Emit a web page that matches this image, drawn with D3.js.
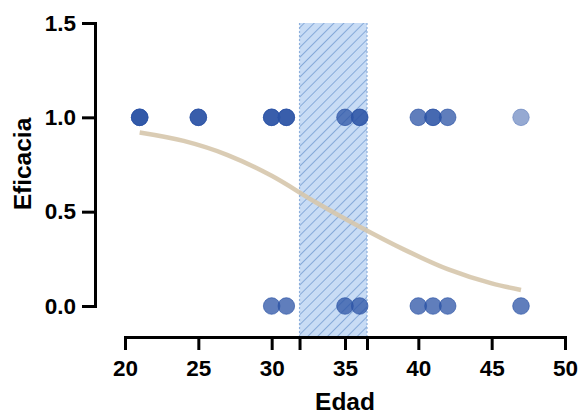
<!DOCTYPE html>
<html>
<head>
<meta charset="utf-8">
<script src="https://cdn.jsdelivr.net/npm/d3@7"></script>
<style>
  body { margin: 0; background: #fff; }
  svg { display: block; font-family: "Liberation Sans", Arial, sans-serif; }
  .axis text { font-size: 22.5px; font-weight: bold; fill: #000; }
  .axis path, .axis line { stroke: #000; stroke-width: 3; }
  .title { font-size: 24.5px; font-weight: bold; }
</style>
</head>
<body>
<svg id="chart"></svg>
<script>
'use strict';

// observations (age, outcome); repeated rows = overlapping points
const ages     = [21,21,21,21,21, 25,25,25,25, 30,30,30,30, 31,31,31,31, 35,35, 36,36,36, 40,40, 41,41,41, 42,42, 47,
                  30,30, 31,31, 35,35, 36,36, 40,40, 41,41, 42,42, 47,47];
const outcomes = [1,1,1,1,1, 1,1,1,1, 1,1,1,1, 1,1,1,1, 1,1, 1,1,1, 1,1, 1,1,1, 1,1, 1,
                  0,0, 0,0, 0,0, 0,0, 0,0, 0,0, 0,0, 0,0];

// fitted curve
const curveX = [21, 24, 27, 30, 33, 36, 39, 42, 45, 47];
const curveY = [0.92, 0.875, 0.80, 0.69, 0.55, 0.42, 0.30, 0.195, 0.12, 0.085];

// shaded interval
const band = [31.9, 36.5];

const xTicks = [20, 25, 30, 35, 40, 45, 50];
const yTicks = [0, 0.5, 1.0, 1.5];

const W = 580, H = 414;
const svg = d3.select('#chart').attr('width', W).attr('height', H);

const x = d3.scaleLinear().domain([20, 50]).range([125, 565]);
const y = d3.scaleLinear().domain([0, 1.5]).range([306, 23]);
const xAxisY = 337;

// hatch pattern
const defs = svg.append('defs');
const pat = defs.append('pattern')
    .attr('id', 'hatch')
    .attr('patternUnits', 'userSpaceOnUse')
    .attr('width', 7).attr('height', 7)
    .attr('patternTransform', 'rotate(45)');
pat.append('rect').attr('width', 7).attr('height', 7).attr('fill', '#c8dcf5');
pat.append('line')
    .attr('x1', 0).attr('y1', 0).attr('x2', 0).attr('y2', 7)
    .attr('stroke', '#87aad9').attr('stroke-width', 2);

svg.append('rect')
    .attr('x', x(band[0]))
    .attr('y', y(1.5))
    .attr('width', x(band[1]) - x(band[0]))
    .attr('height', xAxisY - y(1.5))
    .attr('fill', 'url(#hatch)');

svg.selectAll('.bandedge')
    .data(band)
  .enter().append('line')
    .attr('x1', d => x(d)).attr('x2', d => x(d))
    .attr('y1', y(1.5)).attr('y2', xAxisY)
    .attr('stroke', '#8eb0dd').attr('stroke-width', 1.2)
    .attr('stroke-dasharray', '2,2');

// fitted curve
const line = d3.line()
    .x(d => x(d[0]))
    .y(d => y(d[1]))
    .curve(d3.curveMonotoneX);

svg.append('path')
    .datum(curveX.map((v, i) => [v, curveY[i]]))
    .attr('d', line)
    .attr('fill', 'none')
    .attr('stroke', '#d6c7ac')
    .attr('stroke-opacity', 0.9)
    .attr('stroke-width', 4.5);

// points
svg.append('g')
    .selectAll('circle')
    .data(ages.map((a, i) => [a, outcomes[i]]))
  .enter().append('circle')
    .attr('cx', d => x(d[0]))
    .attr('cy', d => y(d[1]))
    .attr('r', 8.3)
    .attr('fill', '#2b54a6')
    .attr('fill-opacity', 0.5)
    .attr('stroke', '#2b54a6')
    .attr('stroke-opacity', 0.35)
    .attr('stroke-width', 1);

// axes
svg.append('g')
    .attr('class', 'axis')
    .attr('transform', 'translate(95,0)')
    .call(d3.axisLeft(y).tickValues(yTicks).tickFormat(d3.format('.1f')).tickSize(13).tickSizeOuter(0).tickPadding(6));

svg.append('g')
    .attr('class', 'axis')
    .attr('transform', `translate(0,${xAxisY})`)
    .call(d3.axisBottom(x).tickValues(xTicks).tickFormat(d3.format('d')).tickSize(13).tickSizeOuter(0).tickPadding(10));

svg.append('g')
    .attr('class', 'axis')
    .attr('transform', `translate(0,${xAxisY})`)
    .call(d3.axisBottom(x).tickValues(band).tickFormat('').tickSize(13).tickSizeOuter(0))
    .select('.domain').remove();

svg.selectAll('.axis .domain').attr('stroke-linecap', 'square');

// titles
svg.append('text')
    .attr('class', 'title')
    .attr('x', 345).attr('y', 410)
    .attr('text-anchor', 'middle')
    .text('Edad');

svg.append('text')
    .attr('class', 'title')
    .attr('transform', 'translate(31,164) rotate(-90)')
    .attr('text-anchor', 'middle')
    .text('Eficacia');
</script>
</body>
</html>
